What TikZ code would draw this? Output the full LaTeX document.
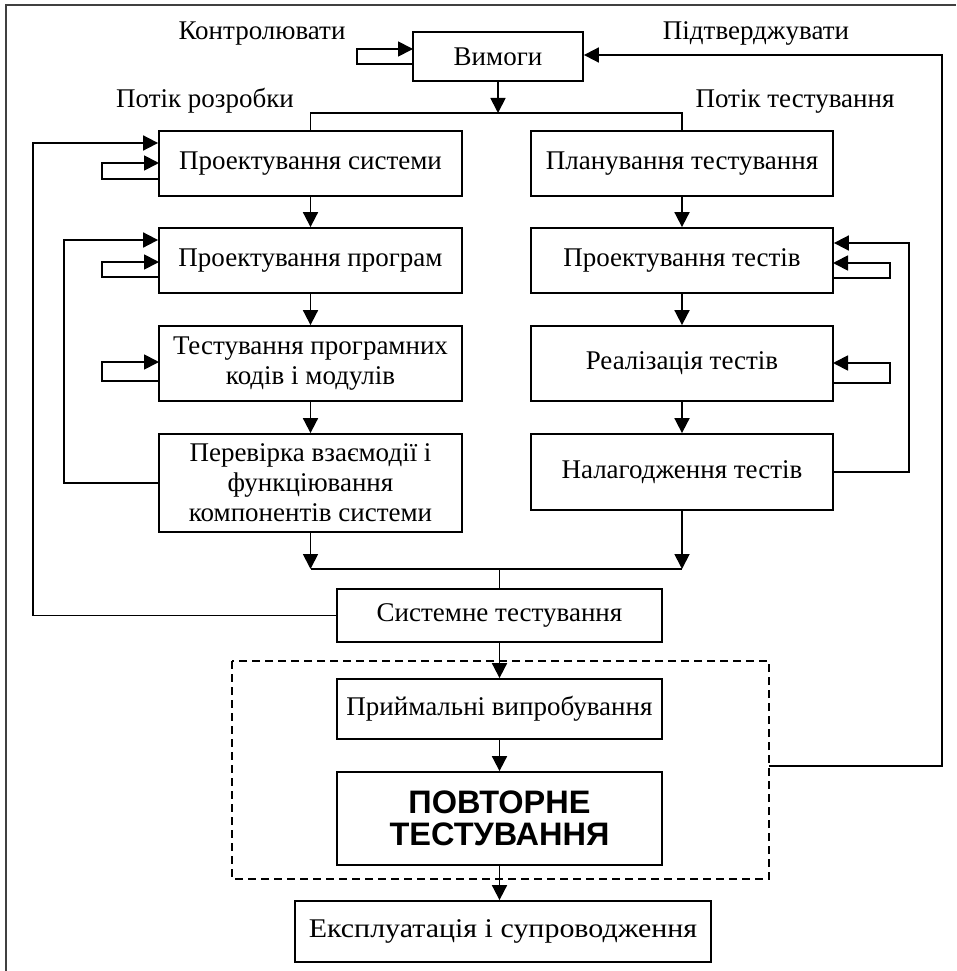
\documentclass[tikz,border=0pt]{standalone}
\usepackage{fontspec}
\setmainfont{Liberation Serif}
\newfontfamily\boldsans{Liberation Sans}
\usetikzlibrary{arrows.meta}
\begin{document}
\begin{tikzpicture}[x=1pt,y=-1pt,
  box/.style={draw, line width=1.8pt, inner sep=0pt, align=center, font=\fontsize{27}{30}\selectfont},
  lbl/.style={anchor=base, inner sep=0pt, font=\fontsize{27}{30}\selectfont},
  ln/.style={line width=1.8pt},
  arr/.style={line width=1.8pt, -{Triangle[length=15pt,width=15pt]}},
  frame/.style={line width=1.2pt, black!75}]
\useasboundingbox (0,0) rectangle (956,971);
\draw[frame] (6,971) -- (6,5) -- (956,5);

% nodes
\node[box, minimum width=170pt, minimum height=49pt] (req) at (498,56.5) {Вимоги};
\node[box, minimum width=303pt, minimum height=65pt] (sysdes) at (310.5,163.5) {Проектування системи};
\node[box, minimum width=302pt, minimum height=65pt] (plan) at (682,163.5) {Планування тестування};
\node[box, minimum width=303pt, minimum height=65pt] (progdes) at (310.5,260.5) {Проектування програм};
\node[box, minimum width=302pt, minimum height=65pt] (testdes) at (682,260.5) {Проектування тестів};
\node[box, minimum width=303pt, minimum height=75pt] (codetest) at (310.5,363.5) {Тестування програмних\\кодів і модулів};
\node[box, minimum width=302pt, minimum height=75pt] (impl) at (682,363.5) {Реалізація тестів};
\node[box, minimum width=303pt, minimum height=98pt] (integ) at (310.5,483) {Перевірка взаємодії і\\функціювання\\компонентів системи};
\node[box, minimum width=302pt, minimum height=76pt] (debug) at (682,472) {Налагодження тестів};
\node[box, minimum width=325pt, minimum height=53pt] (systest) at (499.5,615.5) {Системне тестування};
\node[box, minimum width=325pt, minimum height=60pt] (accept) at (499.5,709) {Приймальні випробування};
\node[box, minimum width=325pt, minimum height=93pt, font=\boldsans\bfseries\fontsize{32.5}{32}\selectfont] (retest) at (499.5,818.5) {ПОВТОРНЕ\\ТЕСТУВАННЯ};
\node[box, minimum width=416pt, minimum height=61pt] (ops) at (503,931.5) {\scalebox{1.11}[1]{Експлуатація і супроводження}};
\draw[line width=1.4pt, dash pattern=on 8pt off 5pt] (232,661) rectangle (769,879);
\coordinate (dashR) at (769,766);

% labels
\node[lbl] (lk) at (262,40) {Контролювати};
\node[lbl] (lr) at (205,108) {Потік розробки};
\node[lbl] (lp) at (756,40) {Підтверджувати};
\node[lbl] (lt) at (795,108) {Потік тестування};

% split from requirements
\coordinate (split) at (498,113);
\draw[arr] (req.south) -- (split);
\draw[ln] (sysdes.north) |- (split) -| (plan.north);

% left column flow
\draw[arr] (sysdes.south) -- (progdes.north);
\draw[arr] (progdes.south) -- (codetest.north);
\draw[arr] (codetest.south) -- (integ.north);
% right column flow
\draw[arr] (plan.south) -- (testdes.north);
\draw[arr] (testdes.south) -- (impl.north);
\draw[arr] (impl.south) -- (debug.north);

% join
\coordinate (jl) at (310.5,569);
\coordinate (jr) at (682,569);
\draw[arr] (integ.south) -- (jl);
\draw[arr] (debug.south) -- (jr);
\draw[ln] (jl) -- (jr);
\draw[ln] (systest.north |- jl) -- (systest.north);

% bottom flow
\draw[arr] (systest.south) -- (accept.north);
\draw[arr] (accept.south) -- (retest.north);
\draw[arr] (retest.south) -- (retest.south |- ops.north);

% self loops
\draw[arr] (413,64) -- (357,64) -- (357,49) -- (413,49);
\draw[arr] (159,179) -- (102,179) -- (102,163) -- (159,163);
\draw[arr] (159,277) -- (102,277) -- (102,262) -- (159,262);
\draw[arr] (159,381) -- (102,381) -- (102,362) -- (159,362);
\draw[arr] (833,278) -- (890,278) -- (890,263) -- (833,263);
\draw[arr] (833,383) -- (890,383) -- (890,363) -- (833,363);

% feedback loops
\draw[arr] (systest.west) -| (33,143) -- (sysdes.west |- 33,143);
\draw[arr] (integ.west) -| (64,240) -- (progdes.west |- 64,240);
\draw[arr] (debug.east) -| (909,243) -- (testdes.east |- 909,243);
\draw[arr] (dashR) -| (942,55) -- (req.east |- 942,55);
\end{tikzpicture}
\end{document}
